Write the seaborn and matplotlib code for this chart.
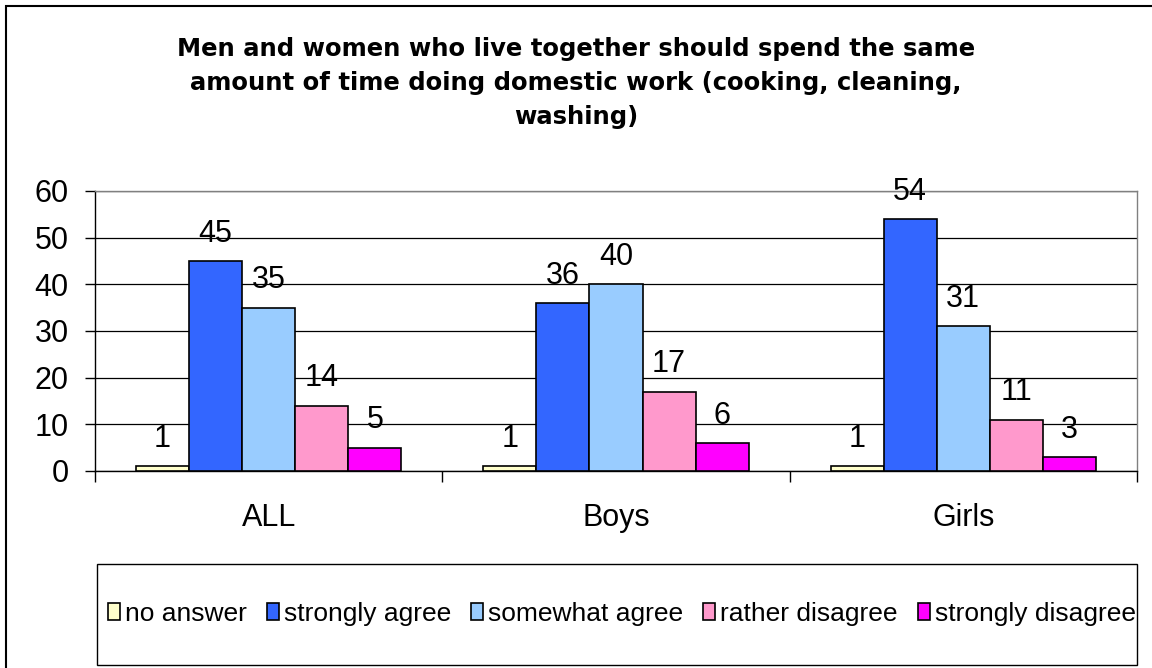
import matplotlib
matplotlib.use("Agg")
import matplotlib.pyplot as plt
import pandas as pd
import seaborn as sns
from matplotlib.patches import Rectangle

groups = ["ALL", "Boys", "Girls"]
answers = ["no answer", "strongly agree", "somewhat agree", "rather disagree", "strongly disagree"]
no_answer = [1, 1, 1]
strongly_agree = [45, 36, 54]
somewhat_agree = [35, 40, 31]
rather_disagree = [14, 17, 11]
strongly_disagree = [5, 6, 3]
colors = ["#FFFFCC", "#3366FF", "#99CCFF", "#FF99CC", "#FF00FF"]

series = [no_answer, strongly_agree, somewhat_agree, rather_disagree, strongly_disagree]
rows = []
for ans, vals in zip(answers, series):
    for g, v in zip(groups, vals):
        rows.append({"group": g, "answer": ans, "value": v})
df = pd.DataFrame(rows)

sns.set_style("white")
plt.rcParams["font.family"] = ["Liberation Sans", "DejaVu Sans"]
plt.rcParams["text.color"] = "black"
plt.rcParams["xtick.color"] = "black"
plt.rcParams["ytick.color"] = "black"

fig = plt.figure(figsize=(11.52, 6.68), dpi=100)
ax = fig.add_axes([95 / 1152, 1 - 471 / 668, (1137 - 95) / 1152, (471 - 191) / 668])

sns.barplot(data=df, x="group", y="value", hue="answer", hue_order=answers,
            palette=colors, width=0.764, gap=0, edgecolor="black", linewidth=1.2,
            saturation=1, legend=False, ax=ax, zorder=3)

# value labels above each bar
for cont in ax.containers:
    for bar in cont:
        h = bar.get_height()
        ax.annotate(f"{h:g}", (bar.get_x() + bar.get_width() / 2, h),
                    xytext=(0, 9), textcoords="offset points",
                    ha="center", va="bottom", fontsize=22)

ax.set_ylim(0, 60)
ax.set_xlim(-0.5, 2.5)
ax.set_yticks(range(0, 61, 10))
ax.yaxis.grid(True, color="black", linewidth=0.9)
ax.set_axisbelow(True)
ax.set_xlabel("")
ax.set_ylabel("")
ax.tick_params(axis="y", labelsize=22, length=7, width=1, pad=12, left=True)
ax.tick_params(axis="x", which="major", labelsize=22, length=0, pad=23)
ax.set_xticks([-0.5, 0.5, 1.5, 2.5], minor=True)
ax.tick_params(axis="x", which="minor", length=8, width=1, bottom=True)
for s in ["left", "bottom"]:
    ax.spines[s].set_color("black")
    ax.spines[s].set_linewidth(1)
for s in ["top", "right"]:
    ax.spines[s].set_color("#808080")
    ax.spines[s].set_linewidth(1)

fig.text(0.5, 1 - 83 / 668,
         "Men and women who live together should spend the same\n"
         "amount of time doing domestic work (cooking, cleaning,\n"
         "washing)",
         ha="center", va="center", fontsize=17.5, fontweight="bold", linespacing=1.55,
         family=["DejaVu Sans"])

# legend box
fig.patches.append(Rectangle((97 / 1152, 1 - 665 / 668), (1137 - 97) / 1152, (665 - 564) / 668,
                             transform=fig.transFigure, fill=False, edgecolor="black", linewidth=1))
handles = [Rectangle((0, 0), 1, 1, facecolor=c, edgecolor="black", linewidth=1.2) for c in colors]
fig.legend(handles, answers, loc="center", bbox_to_anchor=(622 / 1152, 1 - 614 / 668),
           ncol=5, frameon=False, fontsize=19, handlelength=0.45, handleheight=0.6,
           handletextpad=0.2, columnspacing=0.75)

# outer border
fig.patches.append(Rectangle((6 / 1152, -0.1), 1.2, 1 - 6 / 668 + 0.1,
                             transform=fig.transFigure, fill=False, edgecolor="black", linewidth=1.5))

fig.savefig("out.png", dpi=100)
